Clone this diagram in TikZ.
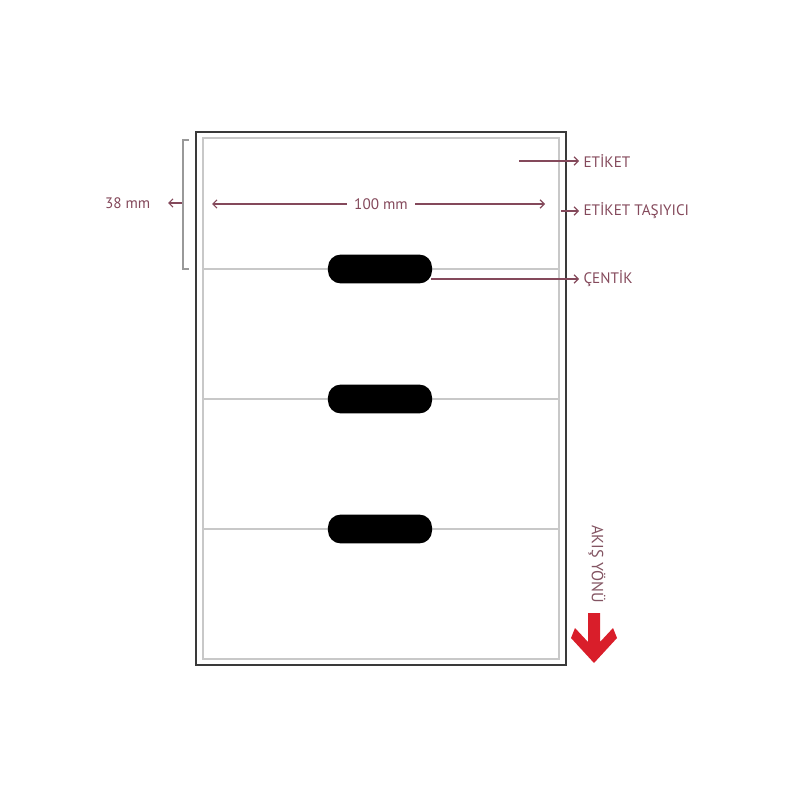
\documentclass[tikz,border=0pt]{standalone}
\usepackage{fontspec}
\setmainfont{PT Sans}
\usepackage{tikz}
\usetikzlibrary{calc, arrows.meta, positioning}

\definecolor{mauve}{HTML}{84495B}
\definecolor{frame}{HTML}{3A3A3A}
\definecolor{liner}{HTML}{C8C8C8}
\definecolor{flow}{HTML}{D91E2A}

\tikzset{
  lbl/.style={text=mauve, font=\fontsize{10.8}{13}\selectfont, inner sep=1pt},
  pointer/.style={draw=mauve, line width=0.8pt, -{Straight Barb[length=3pt,width=6pt]}},
  notch/.style={fill=black, rounded corners=9pt, minimum width=2.6cm, minimum height=0.72cm, inner sep=0pt}
}

\begin{document}
\begin{tikzpicture}[x=0.025cm, y=-0.025cm]
           \useasboundingbox (0,0) rectangle (800,800);

           % label sheet
           \draw[frame, line width=1.1pt] (196,132) rectangle (566,665);
           \draw[liner, line width=0.8pt] (203,138) rectangle (559,659);

           \foreach \y/\n in {269/1, 399/2, 529/3}{
             \draw[liner, line width=0.8pt] (203,\y) -- (559,\y);
             \node[notch] (notch\n) at (380,\y){};
           }

           % 38 mm
           \draw[gray!80, line width=0.8pt] (189,140) -- (183,140) -- (183,269) -- (189,269);
           \coordinate (brace) at (182,203);
           \node[lbl, anchor=east] (height) at (152,203){38 mm};
           \draw[pointer] (brace) -- ++(-14,0);

           % 100 mm
           \node[lbl, inner sep=5pt] (width) at (381,204){100 mm};
           \coordinate (w_left) at (212,204);
           \coordinate (w_right) at (545,204);
           \draw[pointer] (width.west) -- (w_left);
           \draw[pointer] (width.east) -- (w_right);

           % right side labels
           \node[lbl, anchor=west, inner sep=3pt] (etiket) at (579,161){ETİKET};
           \node[lbl, anchor=west, inner sep=3pt] (tasiyici) at (579,211){ETİKET TAŞIYICI};
           \node[lbl, anchor=west, inner sep=3pt] (centik) at (579,279){ÇENTİK};
           \coordinate (e_s) at (519,161);
           \coordinate (t_s) at (561,211);
           \coordinate (c_s) at (431,279);
           \draw[pointer] (e_s) -- (etiket.west);
           \draw[pointer] (t_s) -- (tasiyici.west);
           \draw[pointer] (c_s) -- (centik.west);

           % flow direction
           \node[lbl, rotate=-90, text=mauve!80!gray, font=\fontsize{11.5}{13}\selectfont] (akis) at (597,564){AKIŞ YÖNÜ};
           \fill[flow] (588,613) -- (600,613) -- (600,642) -- (613,628) -- (617,638)
                       -- (594,663) -- (571,638) -- (575,628) -- (588,642) -- cycle;
       \end{tikzpicture}
\end{document}
